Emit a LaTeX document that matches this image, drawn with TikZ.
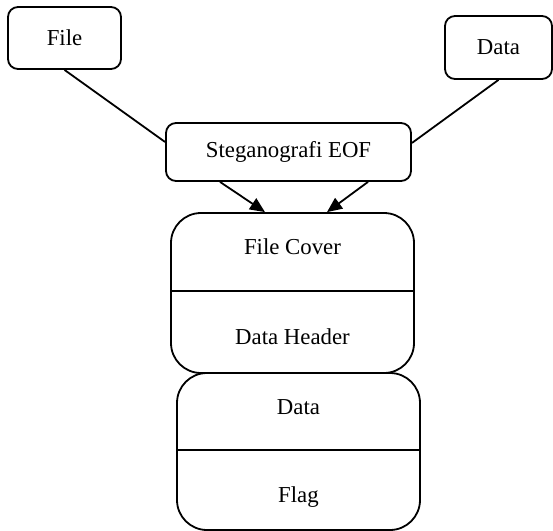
\documentclass[tikz,border=0pt]{standalone}
\usepackage{fontspec}
\setmainfont{Liberation Serif}
\usetikzlibrary{calc,arrows.meta}
\begin{document}
\begin{tikzpicture}[x=0.5pt,y=-0.5pt,
  font=\fontsize{11.4}{13}\selectfont,
  smallbox/.style={draw,line width=0.9pt,rounded corners=5pt,inner sep=0pt},
  bigbox/.style={draw,line width=0.9pt,rounded corners=15pt,inner sep=0pt,minimum width=121.5pt},
  lbl/.style={inner sep=1pt},
  conn/.style={line width=0.9pt},
  arr/.style={line width=0.9pt,-{Triangle[length=7.5pt,width=6.5pt]}}]
\useasboundingbox (0,0) rectangle (553,531);
\node[smallbox,minimum width=56.5pt,minimum height=31pt] (file) at (64.5,38) {File};
\node[smallbox,minimum width=53.5pt,minimum height=31.5pt] (data) at (498.5,47.5) {Data};
\node[smallbox,minimum width=122.5pt,minimum height=29pt] (steg) at (288.5,152) {Steganografi EOF};
\node[bigbox,minimum height=80pt] (box1) at (292.5,293) {};
\node[bigbox,minimum height=78.5pt] (box2) at (298.5,451.5) {};
\node[lbl] (fc) at (292.5,247) {File Cover};
\node[lbl] (dh) at (292.5,337) {Data Header};
\node[lbl] (dt) at (298.5,407) {Data};
\node[lbl] (fl) at (298.5,497) {Flag};
\coordinate (d1) at (0,291);
\coordinate (d2) at (0,450);
\draw[conn] (box1.west |- d1) -- (box1.east |- d1);
\draw[conn] (box2.west |- d2) -- (box2.east |- d2);
\draw[conn] (file.south) -- ($(steg.west)+(0,-10)$);
\draw[conn] (data.south) -- ($(steg.east)+(0,-9)$);
\draw[arr] ($(steg.south)+(-68.5,0)$) -- ($(box1.north)+(-27.5,0)$);
\draw[arr] ($(steg.south)+(79.5,0)$) -- ($(box1.north)+(34.5,0)$);
\end{tikzpicture}
\end{document}
